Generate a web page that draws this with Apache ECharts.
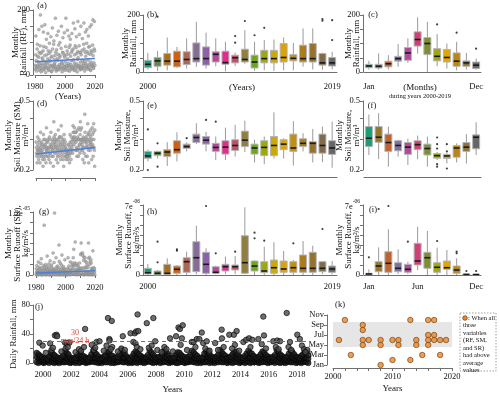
<!DOCTYPE html>
<html>
<head>
<meta charset="utf-8">
<script src="https://cdn.jsdelivr.net/npm/echarts@6/dist/echarts.min.js"></script>
<style>
  html, body { margin: 0; padding: 0; background: #fff; }
  #chart { width: 500px; height: 395px; }
</style>
</head>
<body>
<div id="chart"></div>
<script>
var FONT = 'Liberation Serif';

// ---- categories ----
var years20 = ['2000','2001','2002','2003','2004','2005','2006','2007','2008','2009',
               '2010','2011','2012','2013','2014','2015','2016','2017','2018','2019'];
var months12 = ['Jan','Feb','Mar','Apr','May','Jun','Jul','Aug','Sep','Oct','Nov','Dec'];

var yearColors = ['#1B9E77','#61874C','#A77021','#CF6115','#AA6756','#856D97','#8D61AA','#B7479B','#E12D8C','#BE5068',
                  '#8F7F40','#6DA61C','#9CA812','#CBAA08','#DCA306','#C48F10','#AD7C1A','#957230','#7E6C4B','#666666'];
var monthColors = ['#1B9E77','#94762D','#BE6432','#7E6FA3','#B3499D','#D04076','#7E8F32','#A0A811','#E0A605','#B88516','#8F7038','#666666'];

// ---- (a) monthly rainfall 1980-2019, six readings per year (mm) ----
var rfMonthly = [
  18,30,62,120,45,22, 12,25,80,95,58,30, 25,40,55,140,70,15, 20,35,90,185,66,28,
  10,22,70,150,52,35, 15,48,75,132,88,20, 30,18,60,155,40,25, 8,28,85,110,62,38,
  22,36,50,128,75,18, 14,20,66,98,45,30, 25,42,72,118,55,12, 10,30,58,145,80,26,
  18,24,95,105,48,34, 28,38,60,175,70,20, 12,26,78,122,50,16, 20,45,64,135,92,28,
  16,32,55,100,60,22, 24,20,82,150,42,36, 10,34,70,115,68,18, 22,28,60,130,55,25,
  15,40,88,175,62,30, 20,26,74,138,50,14, 28,36,65,120,85,24, 12,30,92,110,58,32,
  18,44,70,128,76,20, 25,22,80,160,48,28, 14,38,62,142,90,16, 22,30,85,118,66,34,
  10,48,72,165,54,22, 26,28,90,125,70,30, 16,40,68,150,62,18, 20,24,76,112,44,26,
  30,36,95,160,80,20, 12,42,70,132,58,35, 24,30,98,140,72,22, 18,46,66,120,86,28,
  22,34,88,148,64,16, 14,40,75,155,70,32, 28,26,92,170,60,24, 20,38,80,165,74,30
];
var rfTrend = [[1980, 41], [2019.9, 51]];

// ---- (d) monthly soil moisture (m3/m3) ----
var smMonthly = [
  .29,.27,.25,.24,.22,.26, .31,.28,.26,.25,.23,.27, .30,.29,.24,.26,.22,.25, .33,.27,.26,.28,.24,.29,
  .28,.26,.25,.23,.21,.24, .32,.30,.27,.27,.23,.28, .30,.28,.24,.25,.22,.26, .35,.29,.27,.26,.24,.30,
  .29,.27,.26,.24,.23,.27, .31,.30,.25,.25,.22,.28, .33,.28,.27,.27,.24,.26, .30,.29,.26,.24,.21,.27,
  .38,.31,.28,.29,.25,.30, .32,.28,.27,.26,.23,.29, .30,.27,.25,.24,.22,.26, .34,.30,.28,.27,.24,.31,
  .31,.29,.26,.25,.23,.28, .36,.31,.27,.26,.24,.30, .29,.28,.25,.23,.21,.26, .32,.30,.27,.28,.24,.29,
  .27,.26,.24,.25,.23,.26, .26,.25,.24,.25,.23,.28, .28,.26,.25,.24,.22,.27, .32,.29,.26,.25,.23,.31,
  .29,.28,.27,.26,.25,.30, .36,.33,.30,.31,.28,.33, .35,.31,.29,.30,.26,.33, .33,.29,.27,.26,.24,.30,
  .34,.31,.26,.27,.24,.30, .35,.30,.28,.28,.25,.32, .38,.34,.29,.30,.26,.35, .30,.28,.27,.26,.23,.29,
  .31,.30,.27,.25,.22,.30, .42,.33,.27,.29,.24,.31, .30,.29,.28,.27,.24,.30, .37,.32,.27,.26,.22,.33,
  .32,.30,.29,.28,.26,.31, .34,.29,.28,.27,.23,.30, .35,.32,.28,.27,.24,.33, .37,.30,.27,.26,.21,.34
];
var smTrend = [[1980, 0.247], [2019.9, 0.270]];

// ---- (g) monthly surface runoff, in 1e-6 kg/m2/s ----
var srMonthly = [
  0.1,1.2,0.5,1.8,0.6,0.1, 0.05,0.8,0.9,2.5,0.4,0.05, 0.2,1.5,0.4,1.2,1.0,0.1, 0.1,2.2,0.7,3.1,0.8,0.05,
  0.05,0.6,0.3,1.5,0.5,0.1, 0.1,1.8,1.1,9.5,1.3,0.2, 0.05,0.9,0.5,2.0,0.6,0.05, 0.1,1.3,1.6,3.6,0.9,0.1,
  0.2,0.7,0.4,1.4,2.1,0.05, 0.05,1.1,0.8,2.7,0.5,0.1, 0.1,1.6,0.6,1.9,0.7,0.05, 0.05,0.5,1.2,4.2,1.1,0.1,
  0.1,2.4,0.9,11.8,0.8,0.2, 0.05,1.0,0.6,3.3,1.5,0.05, 0.2,0.8,0.4,1.7,0.6,0.1, 0.1,1.4,1.0,5.7,2.6,0.05,
  0.05,0.6,0.5,2.2,0.9,0.1, 0.1,1.9,1.3,3.8,0.7,0.2, 0.05,0.7,0.3,1.6,1.2,0.05, 0.1,1.2,0.8,2.9,0.5,0.1,
  0.1,0.7,0.3,1.0,0.4,0.05, 0.05,0.4,0.2,1.3,3.3,0.1, 0.1,1.7,0.5,1.0,0.2,0.05, 0.2,2.5,0.6,0.9,0.8,0.1,
  0.1,1.8,1.3,2.3,0.9,0.2, 0.3,3.3,1.7,4.9,2.0,0.1, 0.2,2.3,1.1,6.3,1.8,0.1, 0.1,0.9,0.3,2.2,0.6,0.05,
  0.3,1.8,1.1,1.6,0.8,0.1, 0.2,1.0,0.8,2.3,1.3,0.1, 0.1,3.9,1.2,6.1,4.1,0.2, 0.2,1.4,0.9,4.2,3.7,0.1,
  0.1,2.8,0.4,3.4,1.3,0.05, 0.1,3.3,1.5,2.6,0.7,0.1, 0.2,2.4,1.4,1.9,0.6,0.1, 0.1,1.5,0.7,6.1,3.2,0.05,
  0.2,3.4,2.0,2.5,0.7,0.1, 0.1,2.9,2.3,1.2,0.5,0.05, 0.1,1.3,0.7,4.6,1.0,0.1, 0.1,1.4,0.9,1.2,0.6,0.05
];
var srTrend = [[1980, 0.4], [2019.9, 0.8]];

// ---- box statistics [min, q1, median, q3, max] ----
var rfYearStats = [
  [9,15,27,41,67],[4,20,39,51,74],[6,24,38,65,121],[14,18,38,73,88],[12,26,44,71,118],
  [18,35,47,102,176],[12,24,47,88,138],[20,35,62,71,118],[2,27,33,73,106],[21,32,50,59,68],
  [29,35,44,80,147],[4,14,35,59,106],[6,32,47,76,112],[4,32,47,76,114],[6,35,51,100,121],
  [6,39,48,61,102],[19,35,47,94,153],[9,35,47,100,153],[8,24,32,65,68],[9,21,32,51,71]
];
var rfYearOut = [[1,194],[9,126],[9,103],[10,179],[11,129],[12,155],[18,186],[18,180],[19,182],[19,112]];

var rfMonthStats = [
  [9,15,21,27,39],[8,14,20,27,65],[9,18,29,38,59],[18,38,47,55,98],[32,41,67,86,118],[65,91,114,141,192],
  [0,61,100,121,176],[20,39,55,82,133],[12,35,51,79,100],[6,20,38,67,106],[9,20,32,39,67],[8,12,24,35,47]
];
var rfMonthOut = [[7,167],[9,138],[11,82]];

var smYearStats = [
  [.224,.233,.241,.256,.262],[.233,.242,.250,.256,.258],[.211,.239,.254,.262,.289],[.224,.250,.262,.295,.330],
  [.256,.266,.273,.282,.289],[.282,.288,.308,.322,.372],[.256,.282,.297,.312,.332],[.228,.256,.270,.285,.312],
  [.228,.247,.271,.295,.351],[.239,.259,.277,.299,.364],[.254,.273,.297,.335,.385],[.221,.247,.268,.282,.299],
  [.216,.242,.270,.295,.312],[.233,.242,.277,.312,.430],[.233,.262,.282,.299,.305],[.212,.256,.268,.322,.383],
  [.256,.273,.285,.303,.326],[.221,.250,.285,.292,.345],[.222,.250,.277,.322,.356],[.206,.246,.268,.295,.380]
];
var smYearOut = [[0,.343],[0,.200],[1,.285],[1,.209],[4,.305],[6,.389],[7,.380]];

var smMonthStats = [
  [.244,.273,.305,.356,.418],[.231,.289,.309,.356,.425],[.209,.256,.288,.322,.356],[.239,.258,.277,.295,.299],
  [.214,.246,.271,.288,.303],[.231,.262,.280,.295,.316],[.209,.244,.266,.282,.312],[.228,.234,.242,.249,.254],
  [.218,.233,.241,.246,.250],[.221,.237,.268,.277,.285],[.218,.256,.271,.288,.322],[.244,.265,.309,.319,.377]
];
var smMonthOut = [[7,.308],[7,.282],[7,.266],[7,.216],[7,.209],[8,.282],[8,.256],[8,.204]];

var srYearStats = [
  [0,0.1,0.23,0.67,1.1],[0,0,0.17,0.4,0.5],[0,0.07,0.17,1.07,1.67],[0,0.17,0.57,0.9,1.0],[0,0.27,1.33,1.73,2.33],
  [0.07,0.33,1.73,3.33,4.93],[0,0.17,1.07,2.27,2.67],[0.07,0.17,0.27,0.83,0.93],[0.1,0.4,0.83,1.07,1.83],[0.1,0.5,0.83,1.0,1.9],
  [0.07,0.17,1.23,3.93,6.77],[0,0.4,0.9,1.4,1.45],[0,0.23,0.4,1.33,2.83],[0,0.17,0.73,1.5,3.27],[0,0.27,0.6,1.4,2.4],
  [0,0.27,0.73,1.33,1.5],[0,0.27,0.67,2.0,3.4],[0,0.27,0.67,2.27,2.93],[0.1,0.33,0.67,1.33,1.4],[0.07,0.27,0.6,0.9,1.4]
];
var srYearOut = [[1,3.33],[1,1.27],[3,2.57],[3,2.43],[6,6.9],[7,2.17],[9,2.33],[11,4.23],[11,3.67],[12,3.43],[15,3.17],[18,4.6]];

var srMonthStats = [
  [0,0.05,0.1,0.17,0.57],[0,0.33,0.9,1.33,2.77],[0,0.27,1.17,2.33,4.57],[0.1,0.33,0.67,1.23,2.57],
  [0.1,0.27,0.57,1.07,1.33],[0.5,1.0,1.4,3.17,4.83],[0,0.67,1.73,2.27,4.4],[0,0.27,0.77,1.23,2.73],
  [0,0.57,0.73,1.4,2.5],[0,0.17,0.5,0.9,1.67],[0,0.02,0.05,0.1,0.17],[0,0.02,0.04,0.08,0.15]
];
var srMonthOut = [[0,1.77],[1,6.6],[2,6.9],[4,3.33],[7,3.4],[9,2.33],[9,2.17],[10,0.4],[11,0.4]];

// ---- (j) daily rainfall 2000-2019 (mm) ----
var dailyPeaks = [
  [1999.74,28],[1999.97,24],[2000.2,14],[2000.5,27],[2000.6,18],[2000.84,38],[2000.95,39],[2001.0,37],[2000.7,21],
  [2001.3,16],[2001.56,28],[2001.68,27],[2001.87,28],[2001.6,20],[2001.75,22],[2002.3,15],[2002.55,19],[2002.7,17],
  [2002.98,47],[2002.9,22],[2003.45,25],[2003.6,18],[2003.8,29],[2004.0,30],[2003.7,21],[2004.3,17],[2004.6,62],
  [2004.87,58],[2004.7,33],[2004.72,31],[2004.5,24],[2004.9,22],[2004.8,19],[2005.3,16],[2005.65,37],[2005.55,20],
  [2005.8,18],[2006.2,41],[2006.5,41],[2006.6,43.5],[2006.75,44],[2006.7,67],[2006.4,29],[2006.55,27],[2006.65,22],
  [2006.9,19],[2007.35,55],[2007.5,21],[2007.82,62],[2007.95,30],[2007.7,24],[2008.1,18],[2008.4,15],[2008.6,22],
  [2008.75,19],[2009.0,34],[2009.2,16],[2009.43,37],[2009.6,49],[2009.7,47],[2009.9,52],[2009.84,34],[2009.75,25],
  [2010.2,18],[2010.54,29],[2010.67,29],[2010.9,33],[2010.8,22],[2011.08,33],[2011.25,42],[2011.35,27.5],[2011.6,30],
  [2011.5,20],[2011.8,17],[2012.2,27.5],[2012.4,18],[2012.66,46],[2012.68,34],[2012.8,22],[2013.2,39],[2013.53,39],
  [2013.72,44],[2013.6,25],[2013.4,20],[2013.9,17],[2014.2,29],[2014.4,32],[2014.6,34],[2014.83,32],[2014.7,22],
  [2015.26,33],[2015.61,64],[2015.66,38],[2015.5,26],[2015.8,20],[2016.32,30],[2016.6,31],[2016.8,30],[2016.5,22],
  [2016.7,19],[2017.27,69],[2017.5,29],[2017.4,22],[2017.6,18],[2018.02,39],[2018.2,33],[2018.35,24],[2018.5,19],
  [2018.73,18],[2018.6,15]
];
// dense band of ordinary days, three readings per 1/8 year starting mid-1999
var dailyTop = [
  14,12,10,8,6,7,6,9, 15,13,11,9,7,6,8,10, 16,14,12,8,6,7,7,11, 13,15,10,9,7,6,8,12,
  17,14,12,9,6,7,9,11, 15,16,11,10,7,8,8,12, 18,15,13,9,7,6,9,13, 16,14,12,10,8,7,8,11,
  17,15,12,9,7,8,9,12, 16,16,13,10,7,7,8,12, 15,14,11,9,8,6,9,11, 17,15,12,10,7,7,8,13,
  16,17,13,9,8,7,9,12, 18,15,12,10,7,8,9,12, 15,16,12,9,7,7,10,13, 17,14,13,10,8,7,9,12,
  16,15,11,9,7,8,8,11, 18,16,12,10,8,7,9,13, 17,15,12,9,8,7,10,12, 16,14,11
];
var dailyMid = [
  8,7,6,5,4,4,5,6, 9,7,6,5,4,3,5,6, 8,8,6,5,4,4,4,7, 7,8,6,5,4,3,5,7,
  9,7,7,5,3,4,5,6, 8,9,6,6,4,5,4,7, 10,8,7,5,4,3,5,7, 9,7,6,6,5,4,5,6,
  9,8,6,5,4,5,5,7, 8,9,7,6,4,4,5,7, 8,7,6,5,5,3,5,6, 9,8,7,6,4,4,5,7,
  8,9,7,5,5,4,5,7, 10,8,6,6,4,5,5,7, 8,9,6,5,4,4,6,7, 9,7,7,6,5,4,5,7,
  8,8,6,5,4,5,4,6, 10,9,7,6,5,4,5,7, 9,8,6,5,5,4,6,7, 8,7,6
];
var dailyLow = [
  1,0,2,1,0,1,2,0, 2,1,0,1,1,0,2,1, 1,2,1,0,1,1,0,2, 0,1,2,1,0,1,1,2,
  2,1,1,0,1,0,2,1, 1,2,0,1,0,1,1,2, 2,1,1,2,0,1,0,1, 1,0,2,1,1,0,1,2,
  2,1,0,1,1,2,0,1, 1,2,1,0,1,1,2,0, 0,1,2,1,0,1,1,2, 2,1,1,0,2,0,1,1,
  1,2,0,1,1,0,2,1, 2,1,1,2,0,1,1,0, 1,2,1,0,1,2,0,1, 2,0,1,1,2,1,0,1,
  1,2,1,0,1,1,2,0, 2,1,0,1,1,0,1,2, 1,1,2,0,1,1,0,1, 2,1,0
];
var dailyThreshold = 30;

// ---- (k) months when RF, SM and SR were all above average [year, month] ----
var aboveAvg = [
  [2001,6],[2002,10],[2003,3],[2005,9],[2005,8],[2005,6],[2005,5],[2006,6],[2008,6],[2008,5],[2008,1],
  [2010,6],[2010,2],[2011,6],[2011,5],[2013,10],[2013,2],[2014,6],[2014,5],[2015,3],[2016,10],[2016,7],
  [2016,6],[2016,5],[2017,10],[2017,7],[2017,6],[2018,6],[2018,3],[2019,6]
];
var wetSeasonBand = [4.6, 9.6];
var monthTickNames = ['Jan','Feb','Mar','Apr','May','Jun','Jul','Aug','Sep','Oct','Nov','Dec'];

// ---------- helpers ----------
var lg = function (v) { return Math.log10(v); };
var AX = '#6f6f6f';
var labelStyle = {fontFamily: FONT, fontSize: 8.5, color: '#111'};

function monthlyPoints(vals, f) {
  return vals.map(function (v, i) { return [1980 + (i + 0.5) / 6, f ? f(v) : v]; });
}
function boxRows(stats, f) {
  return stats.map(function (s, i) {
    return [i].concat(s.map(function (v) { return f ? f(v) : v; }));
  });
}
function boxRender(colors) {
  return function (params, api) {
    var i = api.value(0);
    var pMin = api.coord([i, api.value(1)]);
    var pQ1 = api.coord([i, api.value(2)]);
    var pMed = api.coord([i, api.value(3)]);
    var pQ3 = api.coord([i, api.value(4)]);
    var pMax = api.coord([i, api.value(5)]);
    var w = api.size([1, 0])[0] * 0.72;
    var x = pMed[0];
    return {
      type: 'group',
      children: [
        {type: 'line', shape: {x1: x, y1: pMax[1], x2: x, y2: pQ3[1]}, style: {stroke: '#9a9a9a', lineWidth: 1}},
        {type: 'line', shape: {x1: x, y1: pQ1[1], x2: x, y2: pMin[1]}, style: {stroke: '#9a9a9a', lineWidth: 1}},
        {type: 'rect', shape: {x: x - w / 2, y: pQ3[1], width: w, height: Math.max(pQ1[1] - pQ3[1], 1)},
          style: {fill: colors[i], stroke: '#b4b4b4', lineWidth: 1}},
        {type: 'line', shape: {x1: x - w / 2 + 0.5, y1: pMed[1], x2: x + w / 2 - 0.5, y2: pMed[1]},
          style: {stroke: '#1a1a1a', lineWidth: 1.6}}
      ]
    };
  };
}
function catX(grid, cats, shown, offset) {
  return {
    type: 'category', gridIndex: grid, data: cats, boundaryGap: true, offset: offset,
    axisLine: {lineStyle: {color: AX}},
    axisTick: {alignWithLabel: true, length: 3, lineStyle: {color: AX}},
    axisLabel: Object.assign({interval: 0, margin: 3, formatter: function (v) { return shown.indexOf(v) >= 0 ? v : ''; }}, labelStyle),
    splitLine: {show: false}
  };
}
function yearX(grid, showLabels, offset) {
  return {
    type: 'value', gridIndex: grid, min: 1980, max: 2020, interval: 10, offset: offset,
    axisLine: {lineStyle: {color: AX}},
    axisTick: {length: 3, lineStyle: {color: AX}},
    axisLabel: Object.assign({show: showLabels, margin: 3,
      formatter: function (v) { return v % 20 === 0 ? String(v) : ''; }}, labelStyle),
    splitLine: {show: false}
  };
}
function nameStyle() {
  return {fontFamily: FONT, fontSize: 9, color: '#111', lineHeight: 8.5};
}
function linY(grid, min, max, interval, fmt, name, gap, offset) {
  return {
    type: 'value', gridIndex: grid, min: min, max: max, interval: interval, offset: offset || 0,
    name: name, nameLocation: 'middle', nameRotate: 90, nameGap: gap, nameMoveOverlap: false, nameTextStyle: nameStyle(),
    axisLine: {show: true, lineStyle: {color: AX}},
    axisTick: {show: true, length: 3, lineStyle: {color: AX}},
    axisLabel: Object.assign({margin: 3, formatter: fmt,
      rich: {m: {fontFamily: FONT, fontSize: 8.5, color: '#111', verticalAlign: 'bottom', lineHeight: 12},
             s: {fontFamily: FONT, fontSize: 5.5, color: '#111', verticalAlign: 'top', lineHeight: 12}}}, labelStyle),
    splitLine: {show: false}
  };
}
function logY(grid, name, gap, offset) {
  return {
    type: 'value', gridIndex: grid, min: lg(0.2), max: lg(0.5), offset: offset || 0,
    name: name, nameLocation: 'middle', nameRotate: 90, nameGap: gap, nameMoveOverlap: false, nameTextStyle: nameStyle(),
    axisLine: {show: true, lineStyle: {color: AX}},
    axisTick: {show: true, length: 3, lineStyle: {color: AX}, customValues: [lg(0.2), lg(0.3), lg(0.4), lg(0.5)]},
    axisLabel: Object.assign({margin: 3, customValues: [lg(0.2), lg(0.5)],
      formatter: function (v) { return Math.pow(10, v).toFixed(1); }}, labelStyle),
    splitLine: {show: false}
  };
}
var endsOnly = function (top) { return function (v) { return (v === 0 || v === top) ? String(v) : ''; }; };
var sciFmt = function (top, mant, exp) {
  return function (v) { return v === 0 ? '0' : (Math.abs(v - top) < 1e-9 ? '{m|' + mant + '}{s|' + exp + '}' : ''); };
};
function txt(x, y, s, size, extra) {
  return {type: 'text', x: x, y: y, z: 50, style: Object.assign({text: s, fill: '#111',
    font: (size || 8.5) + 'px "' + FONT + '"', align: 'center', verticalAlign: 'middle'}, extra || {})};
}

var scatterGrey = {color: '#a8a8a8', borderColor: '#777', borderWidth: 0.4};
var outStyle = {color: '#111'};
var bandStyle = {color: '#1c1c1c', borderColor: '#000', borderWidth: 0.7};

// ---------- chart ----------
var chart = echarts.init(document.getElementById('chart'), null, {renderer: 'canvas'});

var option = {
  backgroundColor: '#ffffff',
  animation: false,
  grid: [
    {left: 35, top: 10, width: 60, height: 65},     // a
    {left: 143, top: 15, width: 194, height: 57},   // b
    {left: 364, top: 15, width: 117, height: 57},   // c
    {left: 36, top: 101, width: 59, height: 69},    // d
    {left: 143, top: 101, width: 194, height: 69},  // e
    {left: 364, top: 101, width: 117, height: 69},  // f
    {left: 36, top: 212, width: 59, height: 63},    // g
    {left: 143, top: 205, width: 194, height: 70},  // h
    {left: 364, top: 205, width: 117, height: 70},  // i
    {left: 36, top: 305, width: 273, height: 60},   // j
    {left: 333, top: 315, width: 119, height: 50}   // k
  ],
  xAxis: [
    yearX(0, true, 4),
    catX(1, years20, ['2000', '2019'], 7),
    catX(2, months12, ['Jan', 'Dec'], 7),
    yearX(3, false, 8),
    catX(4, years20, [], 7),
    catX(5, months12, [], 7),
    yearX(6, true, 5),
    catX(7, years20, ['2000', '2019'], 4),
    catX(8, months12, ['Jan', 'Jun', 'Dec'], 4),
    {
      type: 'value', gridIndex: 9, min: 1999.5, max: 2018.85, offset: 3,
      name: 'Years', nameLocation: 'middle', nameGap: 19, nameTextStyle: {fontFamily: FONT, fontSize: 9, color: '#111'},
      axisLine: {lineStyle: {color: AX}},
      axisTick: {length: 3, lineStyle: {color: AX},
        customValues: [2000,2001,2002,2003,2004,2005,2006,2007,2008,2009,2010,2011,2012,2013,2014,2015,2016,2017,2018]},
      axisLabel: Object.assign({margin: 4, customValues: [2000,2002,2004,2006,2008,2010,2012,2014,2016,2018],
        formatter: function (v) { return String(Math.round(v)); }}, labelStyle),
      splitLine: {show: false}
    },
    {
      type: 'value', gridIndex: 10, min: 2000, max: 2020, interval: 2, offset: 3,
      name: 'Years', nameLocation: 'middle', nameGap: 16, nameTextStyle: {fontFamily: FONT, fontSize: 9, color: '#111'},
      axisLine: {lineStyle: {color: AX}},
      axisTick: {length: 3, lineStyle: {color: AX}},
      axisLabel: Object.assign({margin: 4, formatter: function (v) { return v % 10 === 0 ? String(v) : ''; }}, labelStyle),
      splitLine: {show: false}
    }
  ],
  yAxis: [
    linY(0, 0, 200, 50, endsOnly(200), 'Monthly\nRainfall (RF), mm', 5, 2),
    linY(1, 0, 200, 50, endsOnly(200), 'Monthly\nRainfall, mm', 5, 0),
    linY(2, 0, 200, 50, endsOnly(200), 'Monthly\nRainfall, mm', 2, 1),
    logY(3, 'Monthly\nSoil Moisture (SM),\nm\u00b3/m\u00b3', 3, 3),
    logY(4, 'Monthly\nSoil Moisture,\nm\u00b3/m\u00b3', 3, 0),
    logY(5, 'Monthly\nSoil Moisture,\nm\u00b3/m\u00b3', 2, 1),
    linY(6, 0, 12, 2, sciFmt(12, '1.2e', '-05'), 'Monthly\nSurface Runoff (SR),\nkg/m\u00b2/s', 3, 3),
    linY(7, 0, 7, 1, sciFmt(7, '7e', '-06'), 'Monthly\nSurface Runoff,\nkg/m\u00b2/s', 2, 0),
    linY(8, 0, 7, 1, sciFmt(7, '7e', '-06'), 'Monthly\nSurface Runoff,\nkg/m\u00b2/s', 2, 1),
    linY(9, 0, 80, 20, function (v) { return v % 40 === 0 ? String(v) : ''; }, 'Daily Rainfall, mm', 15, 3),
    {
      type: 'value', gridIndex: 10, min: 1, max: 11, interval: 2, offset: 6,
      axisLine: {show: true, lineStyle: {color: AX}},
      axisTick: {show: true, length: 3, lineStyle: {color: AX}},
      axisLabel: Object.assign({margin: 3, formatter: function (v) { return monthTickNames[v - 1]; }}, labelStyle),
      splitLine: {show: false}
    }
  ],
  series: [
    // (a)
    {type: 'scatter', xAxisIndex: 0, yAxisIndex: 0, symbolSize: 3, itemStyle: scatterGrey, data: monthlyPoints(rfMonthly)},
    {type: 'line', xAxisIndex: 0, yAxisIndex: 0, symbol: 'none', lineStyle: {color: '#4f7fd6', width: 1.5}, data: rfTrend, z: 5},
    // (b)
    {type: 'custom', xAxisIndex: 1, yAxisIndex: 1, renderItem: boxRender(yearColors), data: boxRows(rfYearStats), encode: {x: 0, y: [1, 5]}},
    {type: 'scatter', xAxisIndex: 1, yAxisIndex: 1, symbolSize: 2.2, itemStyle: outStyle, data: rfYearOut},
    // (c)
    {type: 'custom', xAxisIndex: 2, yAxisIndex: 2, renderItem: boxRender(monthColors), data: boxRows(rfMonthStats), encode: {x: 0, y: [1, 5]}},
    {type: 'scatter', xAxisIndex: 2, yAxisIndex: 2, symbolSize: 2.2, itemStyle: outStyle, data: rfMonthOut},
    // (d)
    {type: 'scatter', xAxisIndex: 3, yAxisIndex: 3, symbolSize: 3, itemStyle: scatterGrey, data: monthlyPoints(smMonthly, lg)},
    {type: 'line', xAxisIndex: 3, yAxisIndex: 3, symbol: 'none', lineStyle: {color: '#4f7fd6', width: 1.5}, z: 5,
      data: smTrend.map(function (p) { return [p[0], lg(p[1])]; })},
    // (e)
    {type: 'custom', xAxisIndex: 4, yAxisIndex: 4, renderItem: boxRender(yearColors), data: boxRows(smYearStats, lg), encode: {x: 0, y: [1, 5]}},
    {type: 'scatter', xAxisIndex: 4, yAxisIndex: 4, symbolSize: 2.2, itemStyle: outStyle,
      data: smYearOut.map(function (p) { return [p[0], lg(p[1])]; })},
    // (f)
    {type: 'custom', xAxisIndex: 5, yAxisIndex: 5, renderItem: boxRender(monthColors), data: boxRows(smMonthStats, lg), encode: {x: 0, y: [1, 5]}},
    {type: 'scatter', xAxisIndex: 5, yAxisIndex: 5, symbolSize: 2.2, itemStyle: outStyle,
      data: smMonthOut.map(function (p) { return [p[0], lg(p[1])]; })},
    // (g)
    {type: 'scatter', xAxisIndex: 6, yAxisIndex: 6, symbolSize: 3, itemStyle: scatterGrey, data: monthlyPoints(srMonthly)},
    {type: 'line', xAxisIndex: 6, yAxisIndex: 6, symbol: 'none', lineStyle: {color: '#4f7fd6', width: 1.5}, data: srTrend, z: 5},
    // (h)
    {type: 'custom', xAxisIndex: 7, yAxisIndex: 7, renderItem: boxRender(yearColors), data: boxRows(srYearStats), encode: {x: 0, y: [1, 5]}},
    {type: 'scatter', xAxisIndex: 7, yAxisIndex: 7, symbolSize: 2.2, itemStyle: outStyle, data: srYearOut},
    // (i)
    {type: 'custom', xAxisIndex: 8, yAxisIndex: 8, renderItem: boxRender(monthColors), data: boxRows(srMonthStats), encode: {x: 0, y: [1, 5]}},
    {type: 'scatter', xAxisIndex: 8, yAxisIndex: 8, symbolSize: 2.2, itemStyle: outStyle, data: srMonthOut},
    // (j)
    {type: 'scatter', xAxisIndex: 9, yAxisIndex: 9, symbolSize: 5.5, clip: false, itemStyle: bandStyle,
      data: dailyLow.map(function (v, i) { return [1999.55 + i * 0.125, v]; })},
    {type: 'scatter', xAxisIndex: 9, yAxisIndex: 9, symbolSize: 5.5, itemStyle: bandStyle,
      data: dailyMid.map(function (v, i) { return [1999.55 + i * 0.125, v]; })},
    {type: 'scatter', xAxisIndex: 9, yAxisIndex: 9, symbolSize: 5.5, itemStyle: bandStyle,
      data: dailyTop.map(function (v, i) { return [1999.55 + i * 0.125, v]; })},
    {type: 'scatter', xAxisIndex: 9, yAxisIndex: 9, symbolSize: 5.5,
      itemStyle: {color: '#4a4a4a', borderColor: '#000', borderWidth: 0.8},
      data: dailyPeaks,
      markLine: {silent: true, symbol: 'none', label: {show: false},
        lineStyle: {color: '#e0443c', type: [4, 3], width: 1}, data: [{yAxis: dailyThreshold}]}},
    // (k)
    {type: 'scatter', xAxisIndex: 10, yAxisIndex: 10, symbolSize: 5.5, clip: false, z: 2,
      itemStyle: {color: '#e8862a', borderColor: '#6e3a0c', borderWidth: 0.8}, data: aboveAvg},
    {type: 'scatter', xAxisIndex: 10, yAxisIndex: 10, data: [], z: 10,
      markArea: {silent: true, itemStyle: {color: 'rgba(200,200,200,0.45)'},
        data: [[{yAxis: wetSeasonBand[0]}, {yAxis: wetSeasonBand[1]}]]}}
  ],
  graphic: [
    txt(42, 6, '(a)'), txt(152, 15, '(b)'), txt(373, 15, '(c)'),
    txt(42, 104, '(d)'), txt(152, 106, '(e)'), txt(372, 106, '(f)'),
    txt(44, 212, '(g)'), txt(152, 212, '(h)'), txt(373, 210, '(i)'),
    txt(39, 307, '(j)'), txt(340, 305, '(k)'),
    txt(68, 97, '(Years)', 9),
    txt(242, 88, '(Years)', 9),
    txt(420, 88, '(Months)', 9),
    txt(420, 96, 'during years 2000-2019', 6.5),
    txt(75, 333, '30', 8, {fill: '#e0443c'}),
    txt(75, 341, 'mm/24 h', 8, {fill: '#e0443c'}),
    {type: 'rect', z: 40, shape: {x: 460, y: 313, width: 36, height: 58},
      style: {fill: '#fff', stroke: '#888', lineWidth: 0.8, lineDash: [1.5, 1.5]}},
    {type: 'circle', z: 50, shape: {cx: 465, cy: 318, r: 2.3},
      style: {fill: '#e8862a', stroke: '#6e3a0c', lineWidth: 0.7}},
    txt(468, 318, ': When all', 6.5, {align: 'left'}),
    txt(463, 325.5, 'three', 6.5, {align: 'left'}),
    txt(463, 333, 'variables', 6.5, {align: 'left'}),
    txt(463, 340.5, '(RF, SM,', 6.5, {align: 'left'}),
    txt(463, 348, 'and SR)', 6.5, {align: 'left'}),
    txt(463, 355.5, 'had above', 6.5, {align: 'left'}),
    txt(463, 363, 'average', 6.5, {align: 'left'}),
    txt(463, 370, 'values', 6.5, {align: 'left'})
  ]
};

chart.setOption(option);
</script>
</body>
</html>
